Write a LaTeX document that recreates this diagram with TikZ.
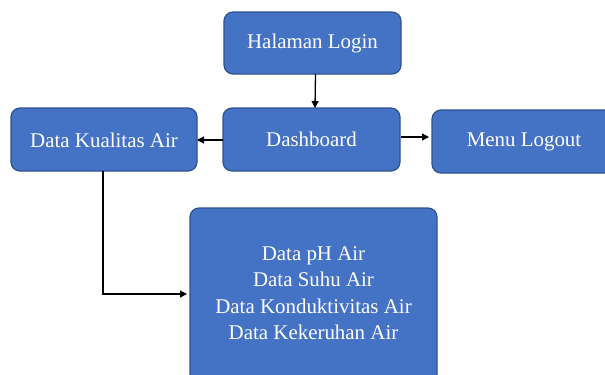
\documentclass[tikz,border=0pt]{standalone}
\usepackage{fontspec}
\setmainfont{Liberation Serif}
\usetikzlibrary{arrows.meta}
\definecolor{boxfill}{HTML}{4472C4}
\definecolor{boxline}{HTML}{2F528F}
\begin{document}
\begin{tikzpicture}[x=1bp,y=-1bp,
  blk/.style={draw=boxline,line width=1.2bp,fill=boxfill,rounded corners=9bp},
  lbl/.style={text=white,font=\fontsize{21}{26.5}\selectfont,align=center,inner sep=0pt},
  conn/.style={line width=1.3bp,-{Triangle[length=7bp,width=7bp]}}]
\useasboundingbox (0,0) rectangle (605,374);
\clip (0,0) rectangle (605,374);
\draw[blk] (224,12) rectangle (401,74);
\node[lbl] (login) at (312.5,43) {Halaman Login};
\coordinate (loginB) at (315.5,74);
\draw[blk] (223,108) rectangle (400,171);
\node[lbl] (dash) at (311.5,139.5) {Dashboard};
\coordinate (dashT) at (315,108);
\coordinate (dashL) at (223,140);
\coordinate (dashR) at (401,137);
\draw[blk] (11,108) rectangle (197,171);
\node[lbl] (kual) at (104,140) {Data Kualitas Air};
\coordinate (kualR) at (197,140);
\coordinate (kualB) at (103,171);
\draw[blk] (432,110) rectangle (616,173);
\node[lbl] (logout) at (524,142) {Menu Logout};
\coordinate (logoutL) at (432,137);
\draw[blk] (190,208) rectangle (437,385);
\node[lbl] (data) at (313.5,293) {Data pH Air\\Data Suhu Air\\Data Konduktivitas Air\\Data Kekeruhan Air};
\coordinate (dataL) at (190,294);
\draw[conn] (loginB) -- (dashT);
\draw[conn] (dashL) -- (kualR);
\draw[conn] (dashR) -- ([xshift=-3bp]logoutL);
\draw[conn] (kualB) |- ([xshift=-3bp]dataL);
\end{tikzpicture}
\end{document}
